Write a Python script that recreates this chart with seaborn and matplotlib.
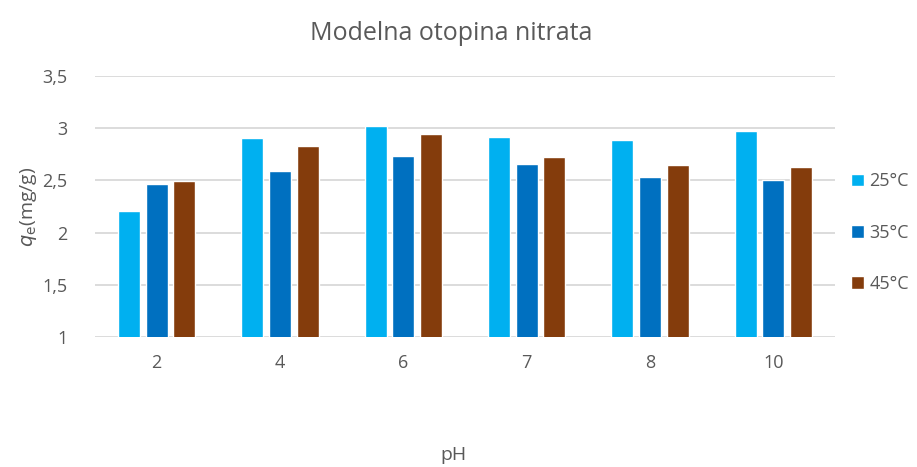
import pandas as pd
import seaborn as sns
import matplotlib.pyplot as plt

# Adsorption capacity vs pH at three temperatures
ph_values = ['2', '4', '6', '7', '8', '10']
temps = ['25°C', '35°C', '45°C']
q_25 = [2.21, 2.91, 3.02, 2.92, 2.89, 2.97]
q_35 = [2.47, 2.59, 2.73, 2.66, 2.53, 2.50]
q_45 = [2.49, 2.83, 2.94, 2.72, 2.65, 2.63]
y_ticks = [1, 1.5, 2, 2.5, 3, 3.5]

df = pd.DataFrame({
    'pH': ph_values * 3,
    'temp': [temps[0]] * 6 + [temps[1]] * 6 + [temps[2]] * 6,
    'q': q_25 + q_35 + q_45,
})

sns.set_style('white')
plt.rcParams['font.family'] = ['Open Sans', 'DejaVu Sans']
text_col = '#595959'

fig = plt.figure(figsize=(9.17, 4.67), dpi=100)
ax = fig.add_axes([0.1036, 0.2784, 0.8070, 0.5589])

palette = {'25°C': '#00B0F0', '35°C': '#0070C0', '45°C': '#843C0C'}
sns.barplot(data=df, x='pH', y='q', hue='temp', order=ph_values, hue_order=temps,
            palette=palette, width=0.67, gap=0.2, saturation=1, ax=ax, zorder=3)

ax.set_ylim(1, 3.5)
ax.set_yticks(y_ticks)
ax.set_yticklabels([str(t).replace('.', ',') for t in y_ticks])
ax.yaxis.grid(True, color='#D9D9D9', linewidth=1.3, zorder=0)
ax.set_axisbelow(True)
for s in ax.spines.values():
    s.set_visible(False)
ax.tick_params(axis='both', length=0, labelsize=13, labelcolor=text_col, pad=12)
ax.tick_params(axis='y', pad=20)

ax.set_xlabel('')
ax.set_ylabel(r'$q_\mathrm{e}$(mg/g)', fontsize=14, color=text_col, labelpad=2)
fig.text(0.495, 0.015, 'pH', fontsize=14, color=text_col, ha='center')
fig.text(0.492, 0.915, 'Modelna otopina nitrata', fontsize=18, color=text_col, ha='center')

leg = ax.legend(loc='center left', bbox_to_anchor=(1.0, 0.40), frameon=False,
                fontsize=13, labelspacing=1.85, handlelength=0.7, handleheight=0.7,
                handletextpad=0.3)
for t in leg.get_texts():
    t.set_color(text_col)

fig.savefig('out.png', dpi=100)
